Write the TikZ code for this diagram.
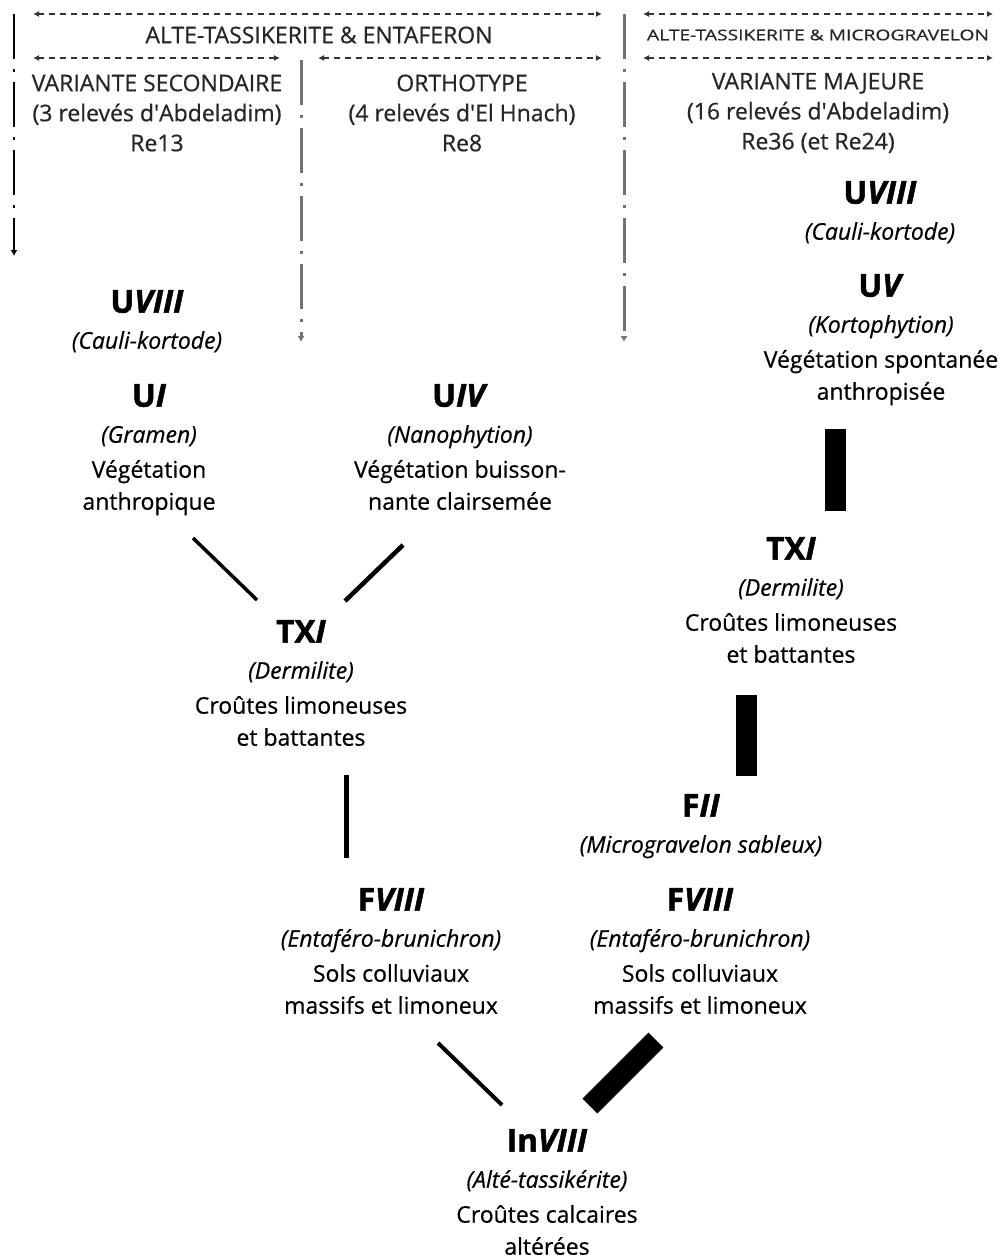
\documentclass[tikz,border=0pt]{standalone}
\usepackage{fontspec}
\setmainfont{Open Sans}[UprightFeatures={FakeBold=0.6}, ItalicFeatures={FakeBold=0.6}, BoldFeatures={FakeBold=1.6}, BoldItalicFeatures={FakeBold=1.6}]
\usepackage{tikz}
\usetikzlibrary{arrows.meta,positioning}
\newcommand{\unitname}[2]{{\fontsize{31.5}{31.5}\selectfont\bfseries #1\textit{#2}}}
\newcommand{\apos}{\textquotesingle}

\begin{document}
\begin{tikzpicture}[x=1pt, y=-1pt,
  unit/.style={align=center, anchor=north, inner sep=0pt, font=\fontsize{23}{32}\selectfont},
  head/.style={align=center, inner sep=0pt, font=\fontsize{23}{30}\selectfont, text=black!85},
  span/.style={{Latex[length=6pt,width=6pt]}-{Latex[length=6pt,width=6pt]}, dash pattern=on 6pt off 5pt, line width=2pt, black!80},
  col/.style={-{Latex[length=6pt,width=7pt]}, dash pattern=on 45pt off 10pt on 3pt off 10pt, line width=3pt, black!55},
  link/.style={line width=4pt},
  fat/.style={line width=21pt}
]
\useasboundingbox (0,0) rectangle (1008,1260);

% headings
\node[head] (alteE) at (319,35) {ALTE-TASSIKERITE \& ENTAFERON};
\node[head, font=\fontsize{14.8}{18}\selectfont] (alteM) at (818,35) {\scalebox{1.3}[1]{ALTE-TASSIKERITE \& MICROGRAVELON}};
\node[head] (varS) at (157,113) {VARIANTE SECONDAIRE\\(3 relevés d\apos Abdeladim)\\Re13};
\node[head] (ortho) at (462,113) {ORTHOTYPE\\(4 relevés d\apos El Hnach)\\Re8};
\node[head] (varM) at (818,113) {VARIANTE MAJEURE\\(16 relevés d\apos Abdeladim)\\Re36 (et Re24)};

\coordinate (sE1) at (33,14);   \coordinate (sE2) at (602,14);
\coordinate (sS1) at (33,58);   \coordinate (sS2) at (280,58);
\coordinate (sO1) at (318,58);  \coordinate (sO2) at (602,58);
\coordinate (sM1) at (643,14);  \coordinate (sM2) at (993,14);
\coordinate (sV1) at (643,58);  \coordinate (sV2) at (993,58);
\draw[span] (sE1) -- (sE2);
\draw[span] (sS1) -- (sS2);
\draw[span] (sO1) -- (sO2);
\draw[span] (sM1) -- (sM2);
\draw[span] (sV1) -- (sV2);

\coordinate (cL1) at (14,14);  \coordinate (cL2) at (14,256);
\coordinate (cM1) at (301,60); \coordinate (cM2) at (301,342);
\coordinate (cR1) at (624,14); \coordinate (cR2) at (624,342);
\draw[col, black, line width=2.5pt] (cL1) -- (cL2);
\draw[col] (cM1) -- (cM2);
\draw[col] (cR1) -- (cR2);

% left block
\node[unit] (uviiiL) at (147,290) {\unitname{U}{VIII}\\[4pt]\textit{(Cauli-kortode)}};
\node[unit] (ui) at (149,384) {\unitname{U}{I}\\[4pt]\textit{(Gramen)}\\[3pt]Végétation\\anthropique};
\node[unit] (uiv) at (460,384) {\unitname{U}{IV}\\[4pt]\textit{(Nanophytion)}\\[3pt]Végétation buisson-\\nante clairsemée};
\node[unit] (txiL) at (301,620) {\unitname{TX}{I}\\[4pt]\textit{(Dermilite)}\\[3pt]Croûtes limoneuses\\et battantes};
\node[unit] (fviiiL) at (391,888) {\unitname{F}{VIII}\\[4pt]\textit{(Entaféro-brunichron)}\\[3pt]Sols colluviaux\\massifs et limoneux};

% right block
\node[unit] (uviiiR) at (880,181) {\unitname{U}{VIII}\\[4pt]\textit{(Cauli-kortode)}};
\node[unit] (uvR) at (881,274) {\unitname{U}{V}\\[4pt]\textit{(Kortophytion)}\\[3pt]Végétation spontanée\\anthropisée};
\node[unit] (txiR) at (791,537) {\unitname{TX}{I}\\[4pt]\textit{(Dermilite)}\\[3pt]Croûtes limoneuses\\et battantes};
\node[unit] (fii) at (701,794) {\unitname{F}{II}\\[4pt]\textit{(Microgravelon sableux)}};
\node[unit] (fviiiR) at (700,888) {\unitname{F}{VIII}\\[4pt]\textit{(Entaféro-brunichron)}\\[3pt]Sols colluviaux\\massifs et limoneux};

% bottom
\node[unit] (inviii) at (547,1129) {\unitname{In}{VIII}\\[4pt]\textit{(Alté-tassikérite)}\\[3pt]Croûtes calcaires\\altérées};

% links
\coordinate (ui-out) at (193,538);    \coordinate (txiL-in1) at (257,600);
\coordinate (uiv-out) at (403,545);   \coordinate (txiL-in2) at (345,601);
\coordinate (txiL-out) at (346,775);  \coordinate (fviiiL-in) at (346,858);
\coordinate (fviiiL-out) at (438,1043); \coordinate (inviii-in1) at (502,1105);
\coordinate (fviiiR-out) at (656,1040); \coordinate (inviii-in2) at (590,1106);
\coordinate (uvR-out) at (835.5,429); \coordinate (txiR-in) at (835.5,511);
\coordinate (txiR-out) at (746,695);  \coordinate (fii-in) at (746,776);
\draw[link, line width=3.5pt] (ui-out) -- (txiL-in1);
\draw[link, line width=4.5pt] (uiv-out) -- (txiL-in2);
\draw[link, line width=5pt] (txiL-out) -- (fviiiL-in);
\draw[link] (fviiiL-out) -- (inviii-in1);
\draw[fat] (fviiiR-out) -- (inviii-in2);
\draw[fat] (uvR-out) -- (txiR-in);
\draw[fat] (txiR-out) -- (fii-in);
\end{tikzpicture}
\end{document}
